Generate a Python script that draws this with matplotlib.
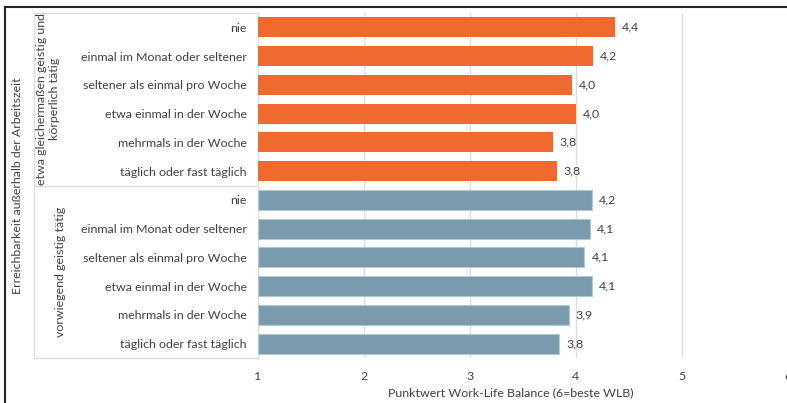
import matplotlib
matplotlib.use("Agg")
import matplotlib.pyplot as plt
from matplotlib.lines import Line2D
from matplotlib.transforms import blended_transform_factory

plt.rcParams["font.family"] = ["Lato", "DejaVu Sans"]

categories = [
    "nie",
    "einmal im Monat oder seltener",
    "seltener als einmal pro Woche",
    "etwa einmal in der Woche",
    "mehrmals in der Woche",
    "täglich oder fast täglich",
]
groups = [
    "etwa gleichermaßen geistig und\nkörperlich tätig",
    "vorwiegend geistig tätig",
]
values_mixed = [4.37, 4.16, 3.96, 4.00, 3.78, 3.82]
labels_mixed = ["4,4", "4,2", "4,0", "4,0", "3,8", "3,8"]
values_mental = [4.15, 4.13, 4.08, 4.15, 3.93, 3.84]
labels_mental = ["4,2", "4,1", "4,1", "4,1", "3,9", "3,8"]

ORANGE = "#F0692E"
BLUE = "#7A9AAD"
GRID = "#DDDDDD"
TEXT = "#404040"
FS = 8.9

W, H = 787, 403
fig = plt.figure(figsize=(W / 100, H / 100), dpi=100)
ax = fig.add_axes([258 / W, 1 - 358 / H, 530 / W, 345 / H])

n = len(categories)
y_mixed = list(range(n))
y_mental = [i + n for i in range(n)]

ax.barh(y_mixed, [v - 1 for v in values_mixed], left=1, height=0.7,
        color=ORANGE, zorder=3)
ax.barh(y_mental, [v - 1 for v in values_mental], left=1, height=0.7,
        color=BLUE, edgecolor="#B3C7D3", linewidth=0.8, zorder=3)

for y, v, t in zip(y_mixed + y_mental, values_mixed + values_mental,
                   labels_mixed + labels_mental):
    ax.annotate(t, (v, y), xytext=(5, 0), textcoords="offset points",
                va="center", ha="left", fontsize=FS, color=TEXT)

ax.set_xlim(1, 6)
ax.set_ylim(2 * n - 0.5, -0.5)
ax.set_xticks([1, 2, 3, 4, 5, 6])
ax.set_xticklabels(["1", "2", "3", "4", "5", "6"])
ax.set_yticks(y_mixed + y_mental)
ax.set_yticklabels(categories + categories)
ax.tick_params(axis="both", length=0, labelsize=FS, labelcolor=TEXT)
ax.tick_params(axis="y", pad=8)
ax.tick_params(axis="x", pad=9)
ax.grid(axis="x", color=GRID, linewidth=1, zorder=0)
for s in ["top", "right", "bottom"]:
    ax.spines[s].set_visible(False)
ax.spines["left"].set_color(GRID)

ax.set_xlabel("Punktwert Work-Life Balance (6=beste WLB)", fontsize=FS,
              color=TEXT)
ax.xaxis.set_label_coords(0.477, -0.085)

# multi-level category axis lines
tr = blended_transform_factory(fig.transFigure, ax.transData)
x0, x1 = 34 / W, 258 / W
for yb in [-0.5, n - 0.5, 2 * n - 0.5]:
    fig.add_artist(Line2D([x0, x1], [yb, yb], transform=tr, color=GRID, lw=1))
fig.add_artist(Line2D([x0, x0], [-0.5, 2 * n - 0.5], transform=tr,
                      color=GRID, lw=1))

fig.text(48 / W, (n - 1) / 2, groups[0], transform=tr, rotation=90,
         ha="center", va="center", fontsize=FS, color=TEXT,
         multialignment="center", linespacing=1.25)
fig.text(61 / W, n + (n - 1) / 2, groups[1], transform=tr, rotation=90,
         ha="center", va="center", fontsize=FS, color=TEXT)
fig.text(18 / W, n - 0.5, "Erreichbarkeit außerhalb der Arbeitszeit",
         transform=tr, rotation=90, ha="center", va="center", fontsize=FS,
         color=TEXT)

# outer frame (only top and left visible)
fig.add_artist(Line2D([5 / W, 5 / W], [0, 1 - 7 / H], color="#262626", lw=1.5))
fig.add_artist(Line2D([5 / W, 1], [1 - 7 / H, 1 - 7 / H], color="#262626", lw=1.5))

fig.savefig("out.png", dpi=100)
